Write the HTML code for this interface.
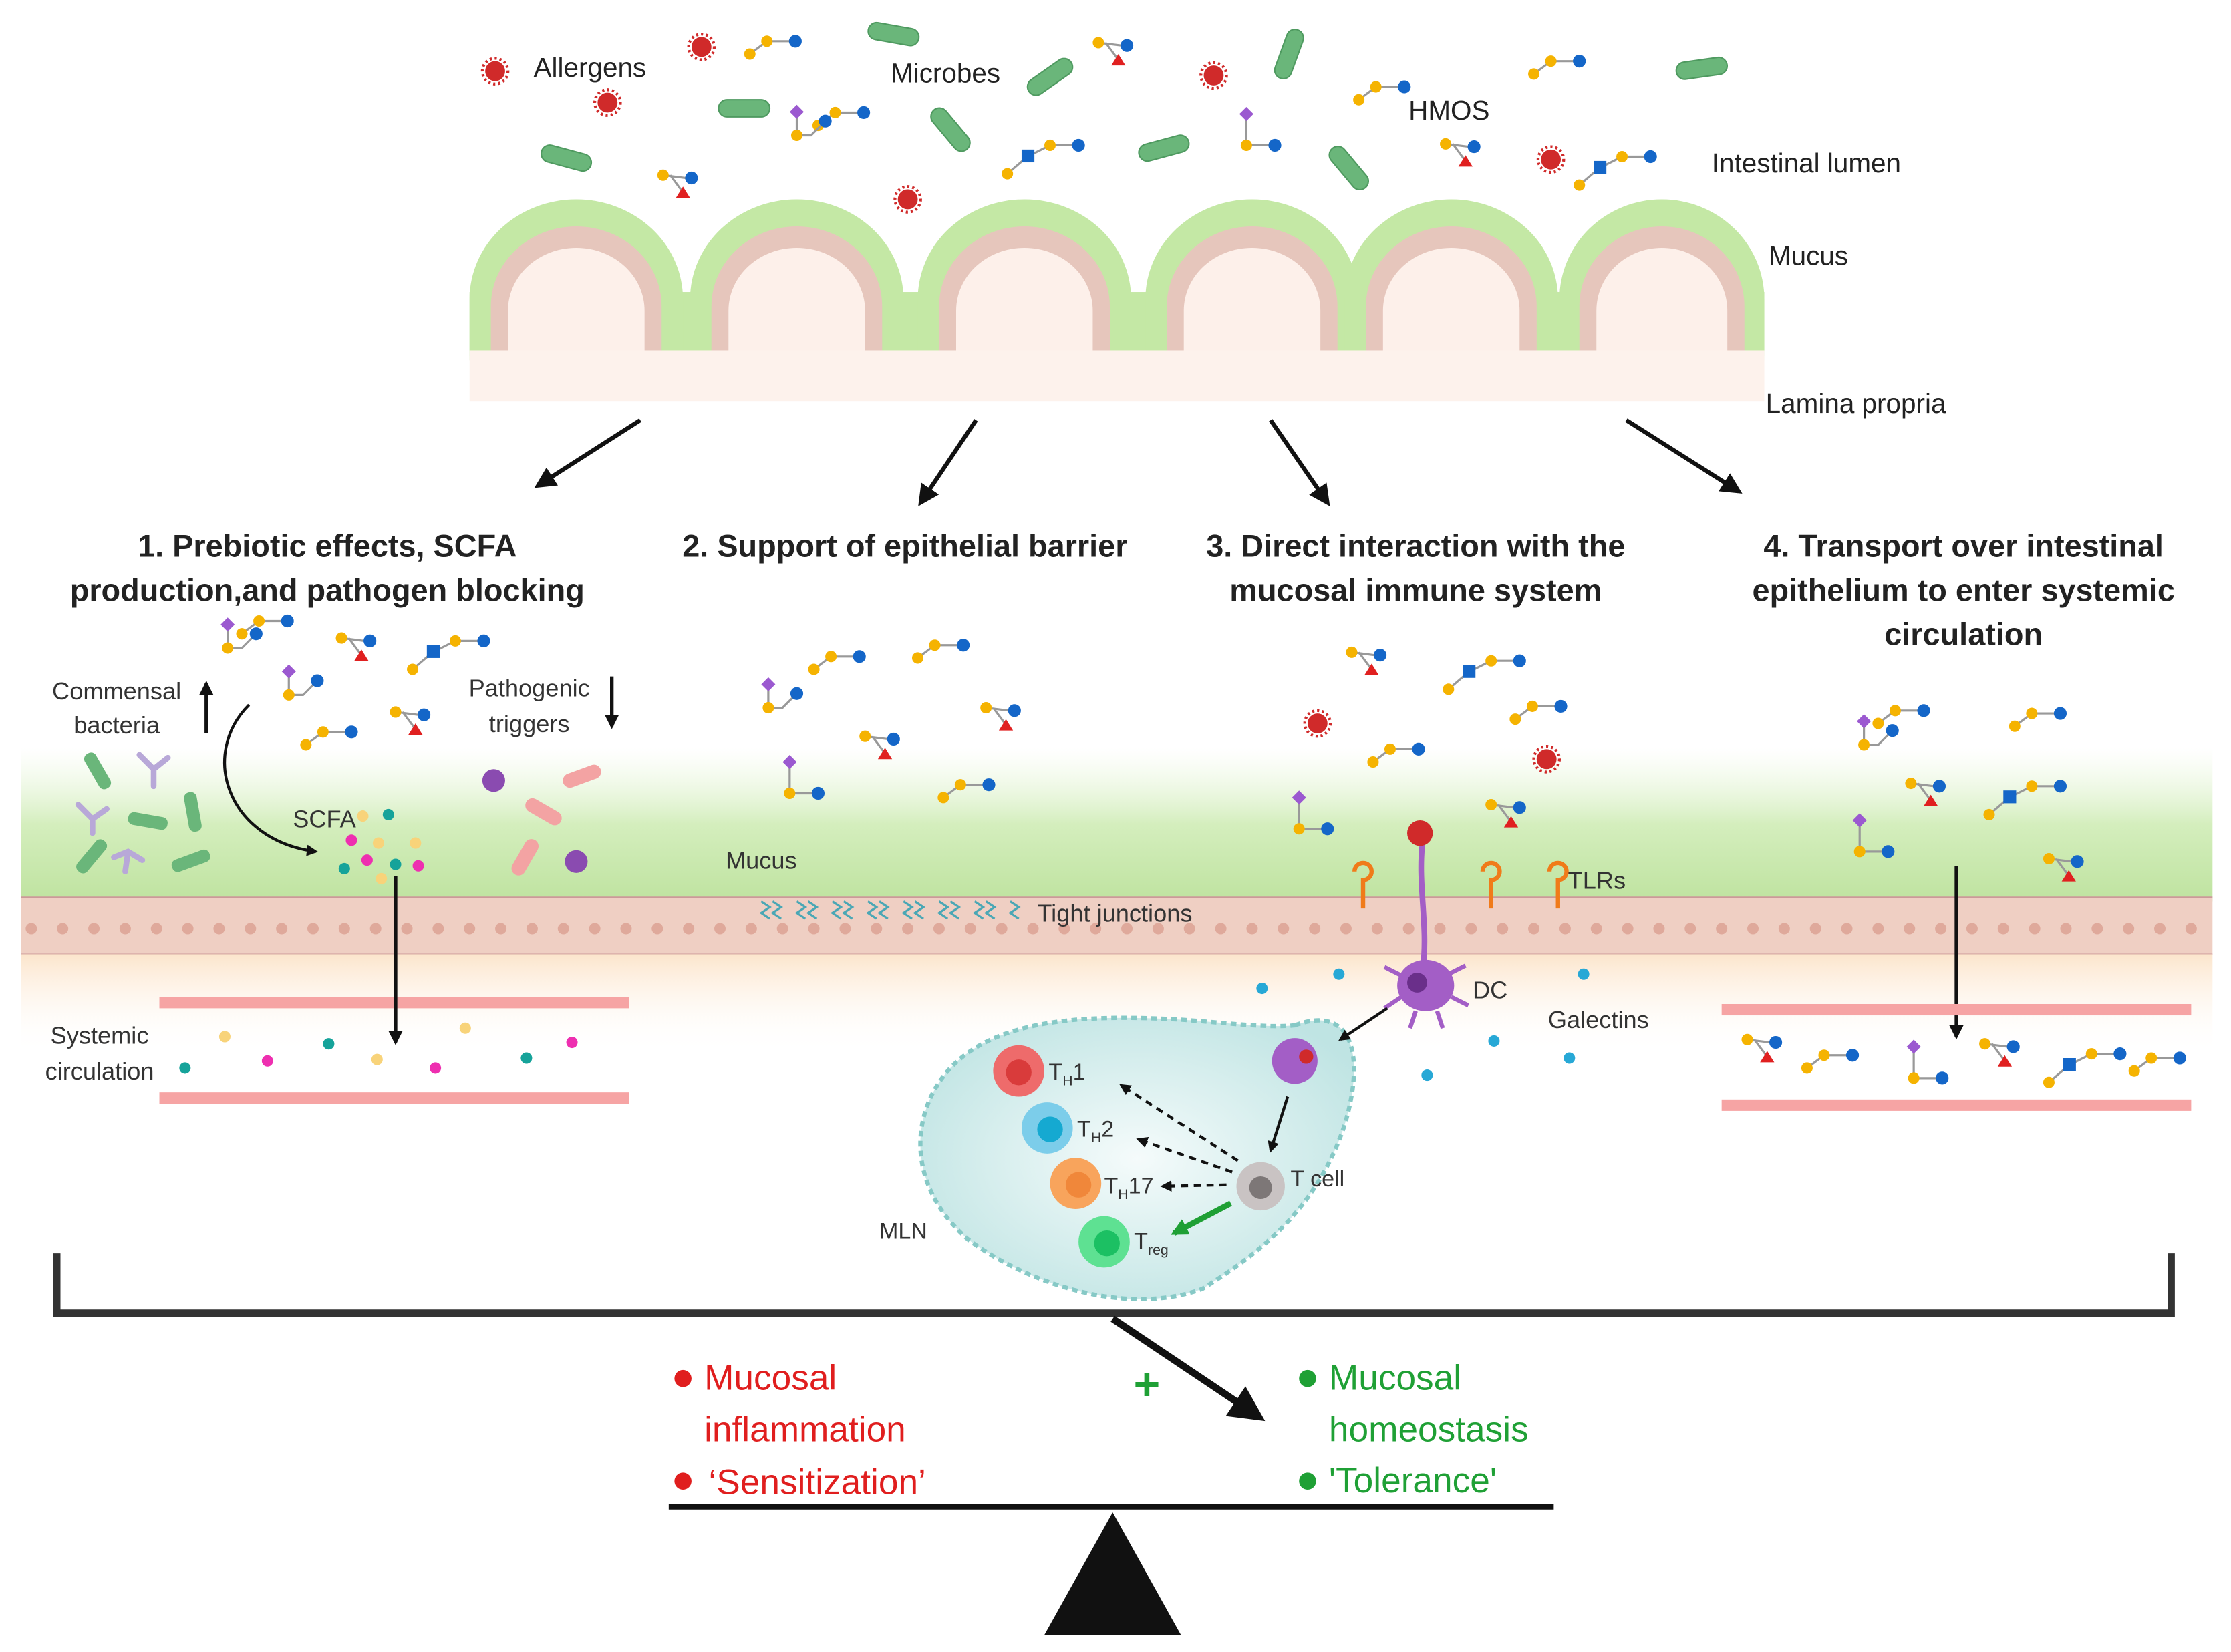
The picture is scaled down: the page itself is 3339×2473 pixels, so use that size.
<!DOCTYPE html>
<html><head><meta charset="utf-8"><style>html,body{margin:0;padding:0;background:#fff}svg{display:block}</style></head><body>
<svg xmlns="http://www.w3.org/2000/svg" xmlns:xlink="http://www.w3.org/1999/xlink" width="3339" height="2473" viewBox="0 0 1568 1160" preserveAspectRatio="none" font-family="Liberation Sans, sans-serif">
<defs>
<linearGradient id="gm" x1="0" y1="0" x2="0" y2="1"><stop offset="0" stop-color="#e9f6dc" stop-opacity="0"/><stop offset="0.5" stop-color="#d4eebd"/><stop offset="1" stop-color="#bfe3a0"/></linearGradient>
<linearGradient id="gl" x1="0" y1="0" x2="0" y2="1"><stop offset="0" stop-color="#fce5cc"/><stop offset="1" stop-color="#fff" stop-opacity="0"/></linearGradient>
<radialGradient id="gn" cx="0.5" cy="0.5" r="0.6"><stop offset="0" stop-color="#f5fbfb"/><stop offset="1" stop-color="#bfe4e3"/></radialGradient>
<marker id="ah" viewBox="0 0 10 10" refX="8" refY="5" markerWidth="4" markerHeight="4" orient="auto"><path d="M0,0L10,5L0,10z" fill="#111"/></marker>
<marker id="ahs" viewBox="0 0 10 10" refX="8" refY="5" markerWidth="5" markerHeight="5" orient="auto"><path d="M0,0L10,5L0,10z" fill="#111"/></marker>
<marker id="ahg" viewBox="0 0 10 10" refX="8" refY="5" markerWidth="3" markerHeight="3" orient="auto"><path d="M0,0L10,5L0,10z" fill="#1fa035"/></marker>
<g id="m1"><path d="M0,0L12,-9L32,-9" stroke="#999" stroke-width="1.5" fill="none"/><circle cx="0" cy="0" r="4" fill="#f5b301"/><circle cx="12" cy="-9" r="4" fill="#f5b301"/><circle cx="32" cy="-9" r="4.5" fill="#1466c8"/></g>
<g id="m2"><path d="M0,0L10,0L20,-10M0,0L0,-16" stroke="#999" stroke-width="1.5" fill="none"/><circle cx="0" cy="0" r="4" fill="#f5b301"/><circle cx="20" cy="-10" r="4.5" fill="#1466c8"/><rect x="-3.5" y="-20" width="7" height="7" fill="#9b59d0" transform="rotate(45 0 -16.5)"/></g>
<g id="m3"><path d="M0,0L16,2M5,0L14,12" stroke="#999" stroke-width="1.5"/><circle cx="0" cy="0" r="4" fill="#f5b301"/><circle cx="20" cy="2" r="4.5" fill="#1466c8"/><path d="M14,8L19,16L9,16z" fill="#e02020"/></g>
<g id="m4"><path d="M0,0L14,-12L30,-20L50,-20" stroke="#999" stroke-width="1.5" fill="none"/><circle cx="0" cy="0" r="4" fill="#f5b301"/><rect x="10" y="-17" width="9" height="9" fill="#1466c8"/><circle cx="30" cy="-20" r="4" fill="#f5b301"/><circle cx="50" cy="-20" r="4.5" fill="#1466c8"/></g>
<g id="m5"><path d="M0,0L0,22L20,22" stroke="#999" stroke-width="1.5" fill="none"/><rect x="-3.5" y="-3.5" width="7" height="7" fill="#9b59d0" transform="rotate(45 0 0)"/><circle cx="0" cy="22" r="4" fill="#f5b301"/><circle cx="20" cy="22" r="4.5" fill="#1466c8"/></g>
<g id="al"><circle r="7" fill="#d02a2a"/><circle r="9" fill="none" stroke="#d02a2a" stroke-width="2" stroke-dasharray="1.5 2"/></g>
</defs>
<rect width="1568" height="1160" fill="#fff"/>

<g font-size="19" fill="#222">
<text x="375" y="54">Allergens</text><text x="626" y="58">Microbes</text><text x="990" y="84">HMOS</text>
<text x="1203" y="121">Intestinal lumen</text><text x="1243" y="186">Mucus</text><text x="1241" y="290">Lamina propria</text>
</g>
<use href="#al" x="348" y="50"/><use href="#al" x="427" y="72"/><use href="#al" x="493" y="33"/><use href="#al" x="638" y="140"/><use href="#al" x="853" y="53"/><use href="#al" x="1090" y="112"/>
<g fill="#6ab67a" stroke="#4f9a60" stroke-width="1">
<rect x="610" y="18" width="36" height="12" rx="6" transform="rotate(10 628 24)"/>
<rect x="720" y="48" width="36" height="12" rx="6" transform="rotate(-35 738 54)"/>
<rect x="505" y="70" width="36" height="12" rx="6"/>
<rect x="650" y="85" width="36" height="12" rx="6" transform="rotate(50 668 91)"/>
<rect x="380" y="105" width="36" height="12" rx="6" transform="rotate(15 398 111)"/>
<rect x="800" y="98" width="36" height="12" rx="6" transform="rotate(-15 818 104)"/>
<rect x="888" y="32" width="36" height="12" rx="6" transform="rotate(-70 906 38)"/>
<rect x="930" y="112" width="36" height="12" rx="6" transform="rotate(50 948 118)"/>
<rect x="1178" y="42" width="36" height="12" rx="6" transform="rotate(-8 1196 48)"/>
</g>
<use href="#m1" x="527" y="38"/><use href="#m3" x="772" y="30"/><use href="#m1" x="955" y="70"/><use href="#m1" x="1078" y="52"/>
<use href="#m1" x="575" y="88"/><use href="#m4" x="708" y="122"/><use href="#m5" x="876" y="80"/><use href="#m3" x="466" y="123"/>
<use href="#m3" x="1016" y="101"/><use href="#m4" x="1110" y="130"/><use href="#m2" x="560" y="95"/>

<rect x="330" y="205" width="910" height="48" fill="#c4e8a5"/>
<g>
<g transform="translate(405,0)"><path d="M-75,250V210A75,70 0 0 1 75,210V250z" fill="#c4e8a5"/><path d="M-60,250V215A60,56 0 0 1 60,215V250z" fill="#e6c6bc"/><path d="M-48,250V218A48,44 0 0 1 48,218V250z" fill="#fdf0ea"/></g>
<g transform="translate(560,0)"><path d="M-75,250V210A75,70 0 0 1 75,210V250z" fill="#c4e8a5"/><path d="M-60,250V215A60,56 0 0 1 60,215V250z" fill="#e6c6bc"/><path d="M-48,250V218A48,44 0 0 1 48,218V250z" fill="#fdf0ea"/></g>
<g transform="translate(720,0)"><path d="M-75,250V210A75,70 0 0 1 75,210V250z" fill="#c4e8a5"/><path d="M-60,250V215A60,56 0 0 1 60,215V250z" fill="#e6c6bc"/><path d="M-48,250V218A48,44 0 0 1 48,218V250z" fill="#fdf0ea"/></g>
<g transform="translate(880,0)"><path d="M-75,250V210A75,70 0 0 1 75,210V250z" fill="#c4e8a5"/><path d="M-60,250V215A60,56 0 0 1 60,215V250z" fill="#e6c6bc"/><path d="M-48,250V218A48,44 0 0 1 48,218V250z" fill="#fdf0ea"/></g>
<g transform="translate(1020,0)"><path d="M-75,250V210A75,70 0 0 1 75,210V250z" fill="#c4e8a5"/><path d="M-60,250V215A60,56 0 0 1 60,215V250z" fill="#e6c6bc"/><path d="M-48,250V218A48,44 0 0 1 48,218V250z" fill="#fdf0ea"/></g>
<g transform="translate(1168,0)"><path d="M-72,250V210A72,70 0 0 1 72,210V250z" fill="#c4e8a5"/><path d="M-58,250V215A58,56 0 0 1 58,215V250z" fill="#e6c6bc"/><path d="M-46,250V218A46,44 0 0 1 46,218V250z" fill="#fdf0ea"/></g>
</g>
<rect x="330" y="246" width="910" height="36" fill="#fdf2ec"/>

<g stroke="#111" stroke-width="3" marker-end="url(#ahs)">
<line x1="450" y1="295" x2="378" y2="341"/><line x1="686" y1="295" x2="647" y2="353"/>
<line x1="893" y1="295" x2="933" y2="353"/><line x1="1143" y1="295" x2="1222" y2="345"/>
</g>

<g font-size="22" font-weight="bold" fill="#222" text-anchor="middle">
<text x="230" y="391">1. Prebiotic effects, SCFA</text><text x="230" y="422">production,and pathogen blocking</text>
<text x="636" y="391">2. Support of epithelial barrier</text>
<text x="995" y="391">3. Direct interaction with the</text><text x="995" y="422">mucosal immune system</text>
<text x="1380" y="391">4. Transport over intestinal</text><text x="1380" y="422">epithelium to enter systemic</text><text x="1380" y="453">circulation</text>
</g>

<rect x="15" y="525" width="1540" height="108" fill="url(#gm)"/>
<rect x="15" y="630" width="1540" height="40" fill="#efcfc3"/>
<g fill="#e4b4a6" stroke="#d7a191" stroke-width="0.8">
<path d="M15,630H1555M15,670H1555" stroke="#c99"/>
</g>
<g fill="#dfa99b">
<circle cx="22" cy="652" r="4"/><circle cx="44" cy="652" r="4"/><circle cx="66" cy="652" r="4"/><circle cx="88" cy="652" r="4"/><circle cx="110" cy="652" r="4"/><circle cx="132" cy="652" r="4"/><circle cx="154" cy="652" r="4"/><circle cx="176" cy="652" r="4"/><circle cx="198" cy="652" r="4"/><circle cx="220" cy="652" r="4"/><circle cx="242" cy="652" r="4"/><circle cx="264" cy="652" r="4"/><circle cx="286" cy="652" r="4"/><circle cx="308" cy="652" r="4"/><circle cx="330" cy="652" r="4"/><circle cx="352" cy="652" r="4"/><circle cx="374" cy="652" r="4"/><circle cx="396" cy="652" r="4"/><circle cx="418" cy="652" r="4"/><circle cx="440" cy="652" r="4"/><circle cx="462" cy="652" r="4"/><circle cx="484" cy="652" r="4"/><circle cx="506" cy="652" r="4"/><circle cx="528" cy="652" r="4"/><circle cx="550" cy="652" r="4"/><circle cx="572" cy="652" r="4"/><circle cx="594" cy="652" r="4"/><circle cx="616" cy="652" r="4"/><circle cx="638" cy="652" r="4"/><circle cx="660" cy="652" r="4"/><circle cx="682" cy="652" r="4"/><circle cx="704" cy="652" r="4"/><circle cx="726" cy="652" r="4"/><circle cx="748" cy="652" r="4"/><circle cx="770" cy="652" r="4"/><circle cx="792" cy="652" r="4"/><circle cx="814" cy="652" r="4"/><circle cx="836" cy="652" r="4"/><circle cx="858" cy="652" r="4"/><circle cx="880" cy="652" r="4"/><circle cx="902" cy="652" r="4"/><circle cx="924" cy="652" r="4"/><circle cx="946" cy="652" r="4"/><circle cx="968" cy="652" r="4"/><circle cx="990" cy="652" r="4"/><circle cx="1012" cy="652" r="4"/><circle cx="1034" cy="652" r="4"/><circle cx="1056" cy="652" r="4"/><circle cx="1078" cy="652" r="4"/><circle cx="1100" cy="652" r="4"/><circle cx="1122" cy="652" r="4"/><circle cx="1144" cy="652" r="4"/><circle cx="1166" cy="652" r="4"/><circle cx="1188" cy="652" r="4"/><circle cx="1210" cy="652" r="4"/><circle cx="1232" cy="652" r="4"/><circle cx="1254" cy="652" r="4"/><circle cx="1276" cy="652" r="4"/><circle cx="1298" cy="652" r="4"/><circle cx="1320" cy="652" r="4"/><circle cx="1342" cy="652" r="4"/><circle cx="1364" cy="652" r="4"/><circle cx="1386" cy="652" r="4"/><circle cx="1408" cy="652" r="4"/><circle cx="1430" cy="652" r="4"/><circle cx="1452" cy="652" r="4"/><circle cx="1474" cy="652" r="4"/><circle cx="1496" cy="652" r="4"/><circle cx="1518" cy="652" r="4"/><circle cx="1540" cy="652" r="4"/>
</g>
<rect x="15" y="670" width="1540" height="70" fill="url(#gl)"/>

<use href="#m2" x="160" y="455"/><use href="#m1" x="170" y="445"/><use href="#m3" x="240" y="448"/><use href="#m4" x="290" y="470"/>
<use href="#m2" x="203" y="488"/><use href="#m3" x="278" y="500"/><use href="#m1" x="215" y="523"/>
<g font-size="17" fill="#333" text-anchor="middle"><text x="82" y="491">Commensal</text><text x="82" y="515">bacteria</text><text x="372" y="489">Pathogenic</text><text x="372" y="514">triggers</text><text x="228" y="581">SCFA</text>
<text x="70" y="733">Systemic</text><text x="70" y="758">circulation</text></g>
<line x1="145" y1="515" x2="145" y2="480" stroke="#111" stroke-width="2.5" marker-end="url(#ah)"/>
<line x1="430" y1="475" x2="430" y2="510" stroke="#111" stroke-width="2.5" marker-end="url(#ah)"/>
<path d="M175,495C140,530 160,590 222,598" stroke="#111" stroke-width="2" fill="none" marker-end="url(#ah)"/>
<g fill="#6ab67a"><rect x="55" y="537" width="28" height="9" rx="4" transform="rotate(60 69 541)"/><rect x="90" y="572" width="28" height="9" rx="4" transform="rotate(10 104 576)"/><rect x="120" y="600" width="28" height="9" rx="4" transform="rotate(-20 134 604)"/><rect x="50" y="597" width="28" height="9" rx="4" transform="rotate(-50 64 601)"/><rect x="122" y="566" width="28" height="9" rx="4" transform="rotate(80 136 570)"/></g>
<g stroke="#b8a8d8" stroke-width="4" fill="none" stroke-linecap="round"><path d="M98,530L108,540L118,532M108,540L108,552"/><path d="M55,565L65,575L75,568M65,575L65,585"/><path d="M80,602L90,598L100,604M90,598L88,612"/></g>
<g fill="#f3a3a3"><rect x="395" y="540" width="28" height="10" rx="5" transform="rotate(-20 409 545)"/><rect x="368" y="565" width="28" height="10" rx="5" transform="rotate(30 382 570)"/><rect x="355" y="597" width="28" height="10" rx="5" transform="rotate(-60 369 602)"/></g>
<g fill="#8a4bb0"><circle cx="347" cy="548" r="8"/><circle cx="405" cy="605" r="8"/></g>
<g><circle cx="255" cy="573" r="4" fill="#f8d37a"/><circle cx="273" cy="572" r="4" fill="#16a39a"/><circle cx="247" cy="590" r="4" fill="#ee2fb0"/><circle cx="266" cy="592" r="4" fill="#f8d37a"/><circle cx="292" cy="592" r="4" fill="#f8d37a"/><circle cx="242" cy="610" r="4" fill="#16a39a"/><circle cx="258" cy="604" r="4" fill="#ee2fb0"/><circle cx="278" cy="607" r="4" fill="#16a39a"/><circle cx="294" cy="608" r="4" fill="#ee2fb0"/><circle cx="268" cy="617" r="4" fill="#f8d37a"/></g>
<rect x="112" y="700" width="330" height="8" fill="#f6a4a4"/><rect x="112" y="767" width="330" height="8" fill="#f6a4a4"/>
<line x1="278" y1="615" x2="278" y2="732" stroke="#111" stroke-width="2.5" marker-end="url(#ah)"/>
<g><circle cx="158" cy="728" r="4" fill="#f8d37a"/><circle cx="188" cy="745" r="4" fill="#ee2fb0"/><circle cx="130" cy="750" r="4" fill="#16a39a"/><circle cx="231" cy="733" r="4" fill="#16a39a"/><circle cx="265" cy="744" r="4" fill="#f8d37a"/><circle cx="306" cy="750" r="4" fill="#ee2fb0"/><circle cx="327" cy="722" r="4" fill="#f8d37a"/><circle cx="370" cy="743" r="4" fill="#16a39a"/><circle cx="402" cy="732" r="4" fill="#ee2fb0"/></g>

<use href="#m1" x="572" y="470"/><use href="#m2" x="540" y="497"/><use href="#m1" x="645" y="462"/><use href="#m3" x="693" y="497"/>
<use href="#m3" x="608" y="517"/><use href="#m5" x="555" y="535"/><use href="#m1" x="663" y="560"/>
<text x="510" y="610" font-size="17" fill="#333">Mucus</text>
<text x="729" y="647" font-size="17" fill="#333">Tight junctions</text>
<g stroke="#4aa7b5" stroke-width="1.5" fill="none"><path d="M535,633l6,4l-6,4l6,4M543,633l6,4l-6,4l6,4"/><path d="M560,633l6,4l-6,4l6,4M568,633l6,4l-6,4l6,4"/><path d="M585,633l6,4l-6,4l6,4M593,633l6,4l-6,4l6,4"/><path d="M610,633l6,4l-6,4l6,4M618,633l6,4l-6,4l6,4"/><path d="M635,633l6,4l-6,4l6,4M643,633l6,4l-6,4l6,4"/><path d="M660,633l6,4l-6,4l6,4M668,633l6,4l-6,4l6,4"/><path d="M685,633l6,4l-6,4l6,4M693,633l6,4l-6,4l6,4"/><path d="M710,633l6,4l-6,4l6,4"/></g>

<use href="#m3" x="950" y="458"/><use href="#m4" x="1018" y="484"/><use href="#m1" x="1065" y="505"/><use href="#m1" x="965" y="535"/>
<use href="#m5" x="913" y="560"/><use href="#m3" x="1048" y="565"/><use href="#al" x="926" y="508"/><use href="#al" x="1087" y="533"/>
<g stroke="#f07b1a" stroke-width="3" fill="none"><path d="M958,638V618a6,6 0 1 0 -6,-6"/><path d="M1048,638V618a6,6 0 1 0 -6,-6"/><path d="M1095,638V618a6,6 0 1 0 -6,-6"/></g>
<text x="1102" y="624" font-size="17" fill="#333">TLRs</text>
<path d="M1000,590C996,620 1004,650 1000,680" stroke="#a35ec6" stroke-width="4" fill="none"/>
<circle cx="998" cy="585" r="9" fill="#d02a2a"/>
<ellipse cx="1002" cy="692" rx="20" ry="18" fill="#a35ec6"/><circle cx="996" cy="690" r="7" fill="#6a2f8a"/>
<g stroke="#a35ec6" stroke-width="3" fill="none"><path d="M985,685l-12,-6M985,700l-12,8M1018,684l12,-6M1020,700l12,6M995,710l-4,12M1010,710l4,12"/></g>
<text x="1035" y="701" font-size="17" fill="#333">DC</text>
<text x="1088" y="722" font-size="17" fill="#333">Galectins</text>
<g fill="#27a8d6"><circle cx="887" cy="694" r="4"/><circle cx="941" cy="684" r="4"/><circle cx="1113" cy="684" r="4"/><circle cx="1050" cy="731" r="4"/><circle cx="1103" cy="743" r="4"/><circle cx="1003" cy="755" r="4"/></g>
<path d="M910,720C950,705 960,740 945,790C925,850 885,880 845,905C790,925 720,900 680,870C640,835 640,790 660,760C690,715 760,712 830,716C860,718 890,722 910,720z" fill="url(#gn)" stroke="#86c9c6" stroke-width="3" stroke-dasharray="4 3"/>
<line x1="975" y1="708" x2="942" y2="730" stroke="#111" stroke-width="2" marker-end="url(#ah)"/>
<circle cx="910" cy="745" r="16" fill="#a35ec6"/><circle cx="918" cy="742" r="5" fill="#d02a2a"/>
<line x1="905" y1="770" x2="893" y2="808" stroke="#111" stroke-width="2" marker-end="url(#ah)"/>
<circle cx="886" cy="833" r="17" fill="#c9c3c3"/><circle cx="886" cy="834" r="8" fill="#7d7777"/>
<text x="907" y="833" font-size="16" fill="#333">T cell</text>
<circle cx="716" cy="752" r="18" fill="#ee6b6b"/><circle cx="716" cy="753" r="9" fill="#d93b3b"/>
<circle cx="736" cy="792" r="18" fill="#7ccdea"/><circle cx="738" cy="793" r="9" fill="#15a9d1"/>
<circle cx="756" cy="831" r="18" fill="#f8a45c"/><circle cx="758" cy="832" r="9" fill="#f0873a"/>
<circle cx="776" cy="872" r="18" fill="#5ee192"/><circle cx="778" cy="873" r="9" fill="#1cc063"/>
<g font-size="16" fill="#333"><text x="737" y="758">T<tspan font-size="10" dy="4">H</tspan><tspan dy="-4">1</tspan></text><text x="757" y="798">T<tspan font-size="10" dy="4">H</tspan><tspan dy="-4">2</tspan></text><text x="776" y="838">T<tspan font-size="10" dy="4">H</tspan><tspan dy="-4">17</tspan></text><text x="797" y="877">T<tspan font-size="10" dy="4">reg</tspan></text><text x="618" y="870">MLN</text></g>
<g stroke="#111" stroke-width="2" stroke-dasharray="5 4" marker-end="url(#ah)"><line x1="870" y1="815" x2="788" y2="762"/><line x1="866" y1="823" x2="800" y2="800"/><line x1="862" y1="832" x2="817" y2="833"/></g>
<line x1="865" y1="845" x2="825" y2="866" stroke="#1fa035" stroke-width="4" marker-end="url(#ahg)"/>

<use href="#m1" x="1320" y="508"/><use href="#m2" x="1310" y="523"/><use href="#m1" x="1416" y="510"/><use href="#m3" x="1343" y="550"/>
<use href="#m4" x="1398" y="572"/><use href="#m5" x="1307" y="576"/><use href="#m3" x="1440" y="603"/>
<line x1="1375" y1="608" x2="1375" y2="728" stroke="#111" stroke-width="2.5" marker-end="url(#ah)"/>
<rect x="1210" y="705" width="330" height="8" fill="#f6a4a4"/><rect x="1210" y="772" width="330" height="8" fill="#f6a4a4"/>
<use href="#m3" x="1228" y="730"/><use href="#m1" x="1270" y="750"/><use href="#m5" x="1345" y="735"/><use href="#m3" x="1395" y="733"/><use href="#m4" x="1440" y="760"/><use href="#m1" x="1500" y="752"/>

<path d="M40,880V922H1526V880" stroke="#333" stroke-width="5" fill="none"/>
<line x1="782" y1="926" x2="885" y2="995" stroke="#111" stroke-width="5" marker-end="url(#ahs)"/>
<text x="806" y="983" font-size="32" fill="#1fa035" text-anchor="middle" font-weight="bold">+</text>
<g font-size="25"><circle cx="480" cy="968" r="6" fill="#e01e1e"/><text x="495" y="976" fill="#e01e1e">Mucosal</text><text x="495" y="1012" fill="#e01e1e">inflammation</text><circle cx="480" cy="1040" r="6" fill="#e01e1e"/><text x="498" y="1049" fill="#e01e1e">‘Sensitization’</text>
<circle cx="919" cy="968" r="6" fill="#1fa035"/><text x="934" y="976" fill="#1fa035">Mucosal</text><text x="934" y="1012" fill="#1fa035">homeostasis</text><circle cx="919" cy="1040" r="6" fill="#1fa035"/><text x="934" y="1048" fill="#1fa035">'Tolerance'</text></g>
<line x1="470" y1="1058" x2="1092" y2="1058" stroke="#111" stroke-width="4"/>
<path d="M782,1062L830,1148H734z" fill="#111"/>
</svg>
</body></html>
